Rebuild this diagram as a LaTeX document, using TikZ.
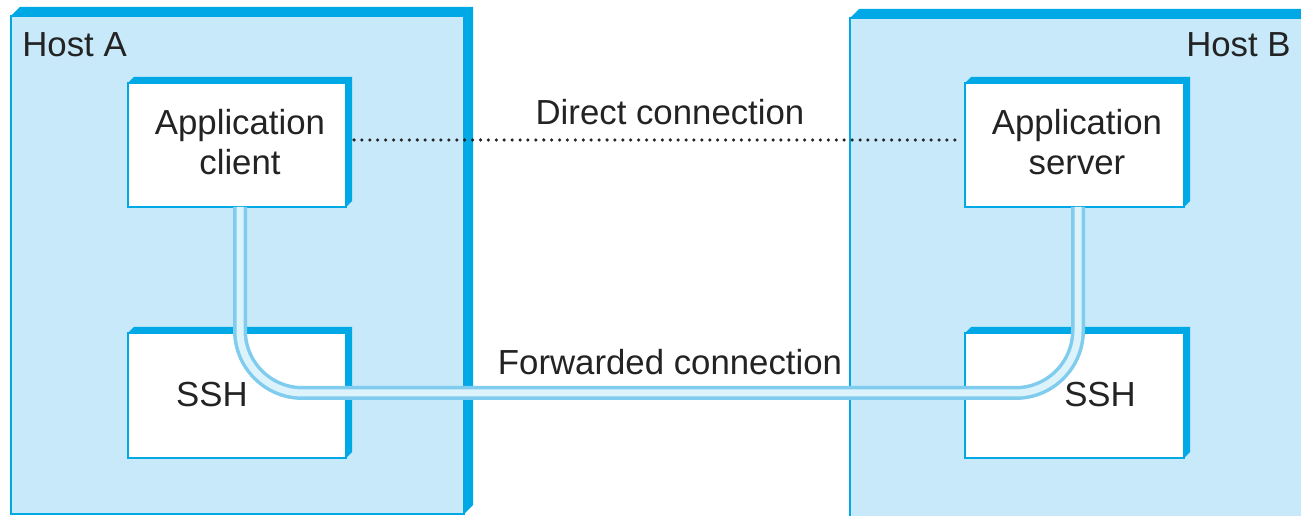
\documentclass[tikz,border=0pt]{standalone}
\usepackage{fontspec}
\setmainfont{Liberation Sans}
\definecolor{hostfill}{RGB}{200,233,249}
\definecolor{edgeblue}{RGB}{0,168,230}
\definecolor{tubeedge}{RGB}{128,204,238}
\definecolor{tubecore}{RGB}{221,243,252}
\definecolor{txtgray}{RGB}{35,35,35}
\newcommand\tdbox[7]{%
  \fill[edgeblue] (#2,#3) -- ++(#6,-#6) -- ({#4+#6},{#3-#6}) -- ({#4+#6},{#5-#6}) -- (#4,#5) -- (#2,#5) -- cycle;
  \node[facebox, fill=#7, minimum width={(#4-#2)*0.02cm}, minimum height={(#5-#3)*0.02cm}] (#1) at ({(#2+#4)/2},{(#3+#5)/2}) {};
}
\tikzset{
  facebox/.style={draw=edgeblue, line width=1.1pt, inner sep=0pt, outer sep=0pt},
  lbl/.style={text=txtgray, align=center, inner sep=0pt},
  tube/.style={draw=tubeedge, line width=0.07cm, double=tubecore, double distance=0.14cm},
  dotline/.style={draw=black!85, line width=2pt, line cap=round, dash pattern=on 0pt off 4.5pt}
}
\begin{document}
\begin{tikzpicture}[x=0.02cm, y=-0.02cm, font=\fontsize{19.8}{22.7}\selectfont]
\clip (0,0) rectangle (1301,516);
\fill[white] (0,0) rectangle (1301,516);
% hosts
\tdbox{hostA}{11}{16}{464}{514}{9}{hostfill}
\tdbox{hostB}{850}{18}{1330}{540}{9}{hostfill}
% inner boxes
\tdbox{client}{128}{83}{346}{207}{6}{white}
\tdbox{sshA}{128}{333}{346}{458}{6}{white}
\tdbox{serv}{965}{83}{1184}{207}{6}{white}
\tdbox{sshB}{965}{333}{1184}{458}{6}{white}
% labels
\node[lbl, anchor=west] (hostAlbl) at (22,45) {Host A};
\node[lbl, anchor=east] (hostBlbl) at (1291,45) {Host B};
\node[lbl] (clientlbl) at (240,142) {Application\\client};
\node[lbl] (servlbl) at (1077,142) {Application\\server};
\node[lbl] (sshAlbl) at (212,395) {SSH};
\node[lbl] (sshBlbl) at (1100,395) {SSH};
\node[lbl] (directlbl) at (670,112) {Direct connection};
\node[lbl] (fwdlbl) at (670,362) {Forwarded connection};
% connections
\draw[dotline] ([shift={(8,-5)}]client.east) -- ([shift={(-4,-5)}]serv.west);
\coordinate (tA) at (240,393);
\coordinate (tB) at (1078,393);
\draw[tube, rounded corners=1.25cm] (client.south -| tA) -- (tA) -- (tB) -- (serv.south -| tB);
\end{tikzpicture}
\end{document}
